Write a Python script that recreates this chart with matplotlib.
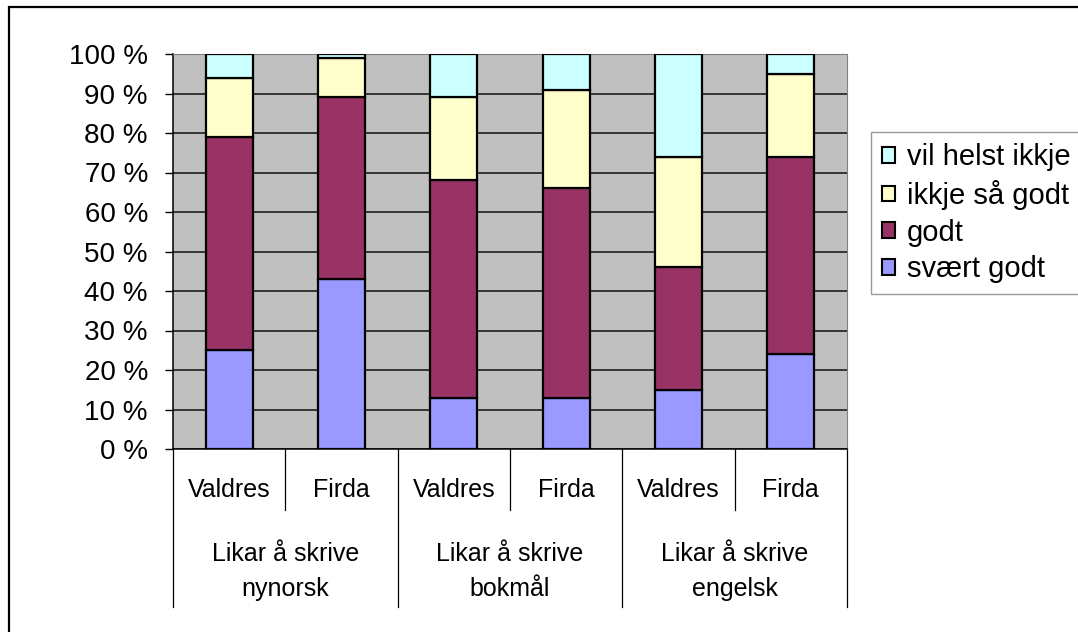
import numpy as np
import matplotlib
matplotlib.use("Agg")
import matplotlib.pyplot as plt
from matplotlib.patches import Patch, Rectangle

plt.rcParams['font.family'] = ['Liberation Sans', 'DejaVu Sans']

# data (percent of answers)
places = ["Valdres", "Firda", "Valdres", "Firda", "Valdres", "Firda"]
groups = ["Likar å skrive\nnynorsk", "Likar å skrive\nbokmål", "Likar å skrive\nengelsk"]
series = ["svært godt", "godt", "ikkje så godt", "vil helst ikkje"]
svaert_godt = [25, 43, 13, 13, 15, 24]
godt = [54, 46, 55, 53, 31, 50]
ikkje_saa_godt = [15, 10, 21, 25, 28, 21]
vil_helst_ikkje = [6, 1, 11, 9, 26, 5]
colors = ["#9999FF", "#993366", "#FFFFCC", "#CCFFFF"]

cat_font = dict(family="Liberation Sans", size=18)

fig = plt.figure(figsize=(10.78, 6.32), dpi=100)
ax = fig.add_axes([173/1078, 1-449/632, (847-173)/1078, (449-54)/632])

x = np.arange(len(places))
bottom = np.zeros(len(places))
for name, vals, col in zip(series, [svaert_godt, godt, ikkje_saa_godt, vil_helst_ikkje], colors):
    ax.bar(x, vals, 0.42, bottom=bottom, color=col, edgecolor="black",
           linewidth=1.6, zorder=3, label=name)
    bottom += np.array(vals)

ax.set_xlim(-0.5, 5.5)
ax.set_ylim(0, 100)
ax.set_facecolor("#C0C0C0")
ax.set_yticks(range(0, 101, 10))
ax.set_yticklabels([f"{v} %" for v in range(0, 101, 10)], fontsize=20)
ax.tick_params(axis="y", length=6, width=1, pad=12)
ax.yaxis.grid(True, color="#101010", linewidth=1.1, zorder=1)
ax.set_axisbelow(True)
for s in ["top", "right"]:
    ax.spines[s].set_color("#808080")
for s in ["left", "bottom"]:
    ax.spines[s].set_color("black")
    ax.spines[s].set_linewidth(1.1)

# multi level category axis
ax.set_xticks([])
tr = ax.get_xaxis_transform()
for i, p in enumerate(places):
    ax.text(i, -0.104, p, transform=tr, ha="center", va="center", **cat_font)
for g, lab in enumerate(groups):
    top, bot = lab.split("\n")
    ax.text(2*g + 0.5, -0.265, top, transform=tr, ha="center", va="center", **cat_font)
    ax.text(2*g + 0.5, -0.355, bot, transform=tr, ha="center", va="center", **cat_font)
for b in np.arange(-0.5, 6, 1):
    low = -0.40 if (b + 0.5) % 2 == 0 else -0.154
    ax.plot([b, b], [0, low], transform=tr, color="black", lw=0.9, clip_on=False)

handles = [Patch(facecolor=c, edgecolor="black", linewidth=1.5) for c in colors]
leg = fig.legend(handles[::-1], series[::-1], loc="upper left",
                 bbox_to_anchor=(871/1078, 1-132/632), fontsize=21,
                 frameon=True, fancybox=False, borderaxespad=0, borderpad=0.38,
                 handlelength=0.45, handleheight=0.45, handletextpad=0.4,
                 labelspacing=0.3)
leg.get_frame().set_edgecolor("#808080")
leg.get_frame().set_linewidth(1.0)

# outer chart frame (right and bottom edges fall outside the picture)
fig.patches.append(Rectangle((9/1078, -0.1), 1.2, 1.1 - 7/632, transform=fig.transFigure,
                             fill=False, edgecolor="black", linewidth=1.6))

fig.savefig("out.png", dpi=100)
